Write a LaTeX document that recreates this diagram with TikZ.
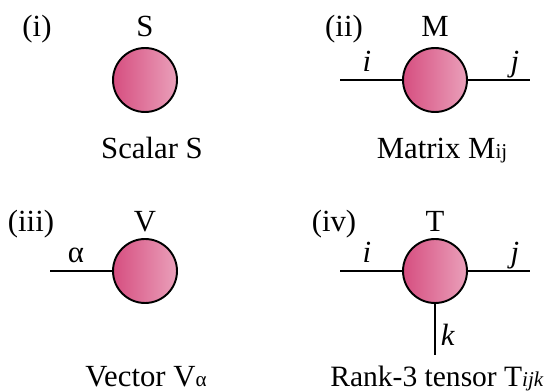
\documentclass[tikz,border=0pt]{standalone}
\usepackage{fontspec}
\setmainfont{Liberation Serif}
\definecolor{tensordark}{RGB}{214, 78, 128}
\definecolor{tensorlight}{RGB}{234, 160, 186}
\usetikzlibrary{positioning}
\newcommand{\smallidx}[1]{{\fontsize{12}{14}\selectfont #1}}

\begin{document}
\begin{tikzpicture}[
        x=0.02cm, y=-0.02cm,
        every node/.style={inner sep=0pt, font=\fontsize{17.5}{20}\selectfont},
        tensor/.style={circle, draw=black, line width=1.1pt, minimum size=1.28cm,
          left color=tensordark, right color=tensorlight},
        leg/.style={line width=0.9pt},
        txt/.style={anchor=base}
      ]
        \useasboundingbox (0,0) rectangle (544,391);
        % (i) scalar
        \node[txt] (lblA) at (37,37) {(i)};
        \node[txt] (nameS) at (145,37) {S};
        \node[tensor] (S) at (145,80) {};
        \node[txt] (capS) at (152,159) {Scalar S};
        % (ii) matrix
        \node[txt] (lblB) at (344,37) {(ii)};
        \node[txt] (nameM) at (435,37) {M};
        \node[tensor] (M) at (435,80) {};
        \coordinate (Mi) at (340,80);
        \coordinate (Mj) at (530,80);
        \draw[leg] (Mi) -- (M.west);
        \draw[leg] (M.east) -- (Mj);
        \node[txt] (idxMi) at (367,72) {\textit{i}};
        \node[txt] (idxMj) at (515,72) {\textit{j}};
        \node[txt] (capM) at (442,159) {Matrix M\smallidx{ij}};
        % (iii) vector
        \node[txt] (lblC) at (31,232) {(iii)};
        \node[txt] (nameV) at (145,232) {V};
        \node[tensor] (V) at (145,271) {};
        \coordinate (Va) at (50,271);
        \draw[leg] (Va) -- (V.west);
        \node[txt] (idxVa) at (76,263) {α};
        \node[txt] (capV) at (146,386) {Vector V\smallidx{α}};
        % (iv) rank-3 tensor
        \node[txt] (lblD) at (334,232) {(iv)};
        \node[txt] (nameT) at (435,232) {T};
        \node[tensor] (T) at (435,271) {};
        \coordinate (Ti) at (340,271);
        \coordinate (Tj) at (530,271);
        \coordinate (Tk) at (435,355);
        \draw[leg] (Ti) -- (T.west);
        \draw[leg] (T.east) -- (Tj);
        \draw[leg] (T.south) -- (Tk);
        \node[txt] (idxTi) at (367,263) {\textit{i}};
        \node[txt] (idxTj) at (515,263) {\textit{j}};
        \node[txt] (idxTk) at (448,345) {\textit{k}};
        \node[txt, font=\fontsize{16.8}{20}\selectfont] (capT) at (437,386) {Rank-3 tensor T\smallidx{\textit{ijk}}};
      \end{tikzpicture}
\end{document}
